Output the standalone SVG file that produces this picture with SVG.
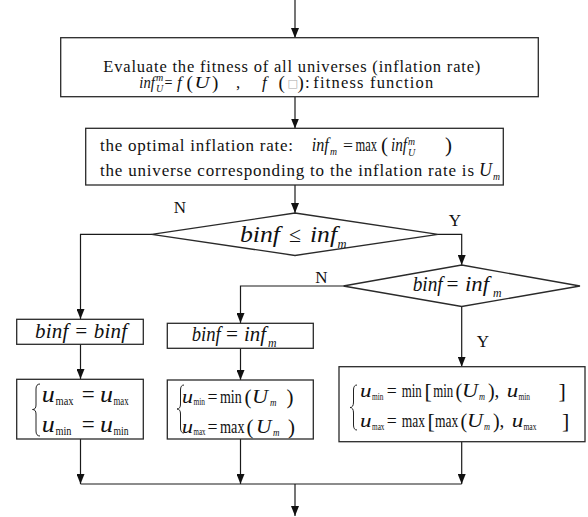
<svg xmlns="http://www.w3.org/2000/svg" width="588" height="517" viewBox="0 0 588 517" font-family="'Liberation Serif', 'Times New Roman', 'DejaVu Serif', serif">
<defs>
<marker id="ah" viewBox="0 0 10 8" refX="10" refY="4" markerWidth="10" markerHeight="8" markerUnits="userSpaceOnUse" orient="auto">
<path d="M0,0 L10,4 L0,8 z" fill="#111"/>
</marker>
</defs>
<style>
.box{fill:#fff;stroke:#2a2a2a;stroke-width:1.3}
.ln{fill:none;stroke:#1a1a1a;stroke-width:1.2}
.ar{fill:none;stroke:#1a1a1a;stroke-width:1.2;marker-end:url(#ah)}
.br{fill:none;stroke:#222;stroke-width:1}
text{font-family:'Liberation Serif','Times New Roman','DejaVu Serif',serif;fill:#111}
.it{font-style:italic}
.lb{font-size:17px}
.sq{font-family:'DejaVu Sans',sans-serif;fill:#aaa}
</style>
<rect width="588" height="517" fill="#fff"/>

<g id="connectors">
<line class="ar" x1="295" y1="0" x2="295" y2="38"/>
<line class="ar" x1="295" y1="97" x2="295" y2="128.5"/>
<line class="ar" x1="295" y1="185" x2="295" y2="213"/>
<polyline class="ar" points="152,234.3 80.5,234.3 80.5,319"/>
<polyline class="ar" points="438,234.3 461.7,234.3 461.7,265"/>
<polyline class="ar" points="343.3,286 240.5,286 240.5,323"/>
<line class="ar" x1="461.7" y1="306" x2="461.7" y2="366.7"/>
<line class="ar" x1="80.5" y1="344" x2="80.5" y2="379"/>
<line class="ar" x1="240.5" y1="348" x2="240.5" y2="380"/>
<line class="ar" x1="80.5" y1="439" x2="80.5" y2="484"/>
<line class="ar" x1="240.5" y1="439" x2="240.5" y2="484"/>
<line class="ar" x1="461.7" y1="441.7" x2="461.7" y2="484"/>
<line class="ln" x1="80.5" y1="484" x2="461.7" y2="484"/>
<line class="ar" x1="295" y1="484" x2="295" y2="516"/>
<text class="lb" x="180" y="213" text-anchor="middle">N</text>
<text class="lb" x="455" y="225.5" text-anchor="middle">Y</text>
<text class="lb" x="321.5" y="283" text-anchor="middle">N</text>
<text class="lb" x="483" y="346.5" text-anchor="middle">Y</text>
</g>

<g id="evaluate">
<rect class="box" x="60.7" y="37.7" width="477.6" height="59"/>
<text x="103.3" y="71.5" font-size="16.5" textLength="377" lengthAdjust="spacing">Evaluate the fitness of all universes (inflation rate)</text>
<text font-size="17"><tspan class="it" x="139.3" y="88" textLength="15.5" lengthAdjust="spacingAndGlyphs">inf</tspan><tspan class="it" x="156" y="81" font-size="10">m</tspan><tspan class="it" x="156" y="92" font-size="10">U</tspan><tspan x="164.5" y="88" textLength="8" lengthAdjust="spacingAndGlyphs">=</tspan><tspan class="it" x="177" y="88">f</tspan><tspan x="186.5" y="89" font-size="19">(</tspan><tspan class="it" x="194.5" y="88" textLength="15" lengthAdjust="spacingAndGlyphs">U</tspan><tspan x="212" y="89" font-size="19">)</tspan><tspan x="236" y="88">,</tspan><tspan class="it" x="262" y="88">f</tspan><tspan x="278.5" y="89" font-size="19">(</tspan><tspan class="sq" x="287.5" y="87" font-size="11">□</tspan><tspan x="297.5" y="89" font-size="19">)</tspan><tspan x="305" y="88">:</tspan><tspan x="313.3" y="88" font-size="16.5" textLength="120" lengthAdjust="spacing">fitness function</tspan></text>
</g>

<g id="optimal">
<rect class="box" x="85.7" y="128.3" width="417.6" height="56.7"/>
<text font-size="17"><tspan x="100" y="151" textLength="193" lengthAdjust="spacing">the optimal inflation rate:</tspan><tspan class="it" x="311.7" y="151" font-size="18" textLength="17" lengthAdjust="spacingAndGlyphs">inf</tspan><tspan class="it" x="330" y="155" font-size="11" textLength="7" lengthAdjust="spacingAndGlyphs">m</tspan><tspan x="343" y="151" textLength="10" lengthAdjust="spacingAndGlyphs">=</tspan><tspan x="355.5" y="151" font-size="18" textLength="21.5" lengthAdjust="spacingAndGlyphs">max</tspan><tspan x="381" y="152" font-size="21">(</tspan><tspan class="it" x="391" y="151" font-size="18" textLength="16" lengthAdjust="spacingAndGlyphs">inf</tspan><tspan class="it" x="408" y="144.5" font-size="10" textLength="7" lengthAdjust="spacingAndGlyphs">m</tspan><tspan class="it" x="408" y="155.5" font-size="10">U</tspan><tspan x="445" y="152" font-size="21">)</tspan></text>
<text font-size="17"><tspan x="100" y="176" textLength="374" lengthAdjust="spacing">the universe corresponding to the inflation rate is</tspan><tspan class="it" x="479" y="176" font-size="19" textLength="13" lengthAdjust="spacingAndGlyphs">U</tspan><tspan class="it" x="493" y="180" font-size="11" textLength="7" lengthAdjust="spacingAndGlyphs">m</tspan></text>
</g>

<g id="decision1">
<polygon class="box" points="295,213 438,234.3 295,255.5 151.7,234.3"/>
<text font-size="24"><tspan class="it" x="240" y="241.5" textLength="40" lengthAdjust="spacingAndGlyphs">binf</tspan><tspan x="289" y="241.5" font-size="22" textLength="12" lengthAdjust="spacingAndGlyphs">≤</tspan><tspan class="it" x="310" y="241.5" textLength="27" lengthAdjust="spacingAndGlyphs">inf</tspan><tspan class="it" x="337.5" y="247.5" font-size="13" textLength="9" lengthAdjust="spacingAndGlyphs">m</tspan></text>
</g>

<g id="decision2">
<polygon class="box" points="461.7,265 580,286 461.7,306.5 343.3,286"/>
<text font-size="20"><tspan class="it" x="412.7" y="291" textLength="30" lengthAdjust="spacingAndGlyphs">binf</tspan><tspan x="446.5" y="291" textLength="12" lengthAdjust="spacingAndGlyphs">=</tspan><tspan class="it" x="465" y="291" textLength="24" lengthAdjust="spacingAndGlyphs">inf</tspan><tspan class="it" x="493" y="296.5" font-size="12" textLength="8.5" lengthAdjust="spacingAndGlyphs">m</tspan></text>
</g>

<g id="keep-binf">
<rect class="box" x="16.7" y="319.3" width="126.6" height="25"/>
<text class="it" x="35" y="337.7" font-size="21" textLength="92" lengthAdjust="spacing">binf = binf</text>
</g>

<g id="set-binf">
<rect class="box" x="167.3" y="323.3" width="146" height="25"/>
<text font-size="20"><tspan class="it" x="191.7" y="341" textLength="29" lengthAdjust="spacingAndGlyphs">binf</tspan><tspan x="226" y="341" textLength="12" lengthAdjust="spacingAndGlyphs">=</tspan><tspan class="it" x="244" y="341" textLength="22" lengthAdjust="spacingAndGlyphs">inf</tspan><tspan class="it" x="268" y="346.5" font-size="12" textLength="8.5" lengthAdjust="spacingAndGlyphs">m</tspan></text>
</g>

<g id="keep-range">
<rect class="box" x="16.7" y="379.3" width="126.6" height="59.7"/>
<path class="br" d="M40,384 Q36,384 36,389 L36,405 Q36,409.5 32.5,409.5 Q36,409.5 36,414 L36,431 Q36,436 40,436"/>
<text font-size="23"><tspan class="it" x="41.7" y="402" textLength="13" lengthAdjust="spacingAndGlyphs">u</tspan><tspan x="55.5" y="404.5" font-size="13" textLength="18" lengthAdjust="spacingAndGlyphs">max</tspan><tspan x="81.7" y="402" textLength="13" lengthAdjust="spacingAndGlyphs">=</tspan><tspan class="it" x="100" y="402" textLength="13" lengthAdjust="spacingAndGlyphs">u</tspan><tspan x="113.5" y="404.5" font-size="13" textLength="15" lengthAdjust="spacingAndGlyphs">max</tspan></text>
<text font-size="23"><tspan class="it" x="41.7" y="432" textLength="13" lengthAdjust="spacingAndGlyphs">u</tspan><tspan x="55.5" y="434.5" font-size="13" textLength="16" lengthAdjust="spacingAndGlyphs">min</tspan><tspan x="81.7" y="432" textLength="13" lengthAdjust="spacingAndGlyphs">=</tspan><tspan class="it" x="100" y="432" textLength="13" lengthAdjust="spacingAndGlyphs">u</tspan><tspan x="113.5" y="434.5" font-size="13" textLength="15" lengthAdjust="spacingAndGlyphs">min</tspan></text>
</g>

<g id="new-range">
<rect class="box" x="167.3" y="380" width="146" height="59"/>
<path class="br" d="M184,385 Q180.5,385 180.5,390 L180.5,404 Q180.5,409 177,409 Q180.5,409 180.5,414 L180.5,428 Q180.5,433 184,433"/>
<text font-size="19"><tspan class="it" x="182" y="402.5" textLength="11" lengthAdjust="spacingAndGlyphs">u</tspan><tspan x="193.5" y="405" font-size="11" textLength="11.5" lengthAdjust="spacingAndGlyphs">min</tspan><tspan x="207.5" y="402.5" textLength="10" lengthAdjust="spacingAndGlyphs">=</tspan><tspan x="220" y="402.5" textLength="21.7" lengthAdjust="spacingAndGlyphs">min</tspan><tspan x="244.5" y="403.5" font-size="21">(</tspan><tspan class="it" x="252" y="402.5" textLength="16" lengthAdjust="spacingAndGlyphs">U</tspan><tspan class="it" x="270" y="406" font-size="10" textLength="6.5" lengthAdjust="spacingAndGlyphs">m</tspan><tspan x="286.5" y="403.5" font-size="21">)</tspan></text>
<text font-size="19"><tspan class="it" x="182" y="432.5" textLength="11" lengthAdjust="spacingAndGlyphs">u</tspan><tspan x="193.5" y="435" font-size="11" textLength="12" lengthAdjust="spacingAndGlyphs">max</tspan><tspan x="207.5" y="432.5" textLength="10" lengthAdjust="spacingAndGlyphs">=</tspan><tspan x="220" y="432.5" textLength="24.5" lengthAdjust="spacingAndGlyphs">max</tspan><tspan x="246.5" y="433.5" font-size="21">(</tspan><tspan class="it" x="256" y="432.5" textLength="15.5" lengthAdjust="spacingAndGlyphs">U</tspan><tspan class="it" x="273" y="436" font-size="10" textLength="6.5" lengthAdjust="spacingAndGlyphs">m</tspan><tspan x="288" y="433.5" font-size="21">)</tspan></text>
</g>

<g id="merge-range">
<rect class="box" x="339" y="366.7" width="246" height="75"/>
<path class="br" d="M357,385 Q353.5,385 353.5,390 L353.5,402 Q353.5,407.5 350,407.5 Q353.5,407.5 353.5,413 L353.5,425 Q353.5,430 357,430"/>
<text font-size="19"><tspan class="it" x="360" y="396.7" textLength="11.5" lengthAdjust="spacingAndGlyphs">u</tspan><tspan x="372" y="399.5" font-size="11" textLength="11.5" lengthAdjust="spacingAndGlyphs">min</tspan><tspan x="386.7" y="396.7" textLength="10" lengthAdjust="spacingAndGlyphs">=</tspan><tspan x="401.7" y="396.7" textLength="20" lengthAdjust="spacingAndGlyphs">min</tspan><tspan x="424.5" y="398" font-size="22">[</tspan><tspan x="433.3" y="396.7" textLength="20" lengthAdjust="spacingAndGlyphs">min</tspan><tspan x="455.5" y="397.7" font-size="20">(</tspan><tspan class="it" x="462" y="396.7" textLength="16" lengthAdjust="spacingAndGlyphs">U</tspan><tspan class="it" x="479" y="400" font-size="10" textLength="6" lengthAdjust="spacingAndGlyphs">m</tspan><tspan x="488" y="397.7" font-size="20">)</tspan><tspan x="494.5" y="396.7">,</tspan><tspan class="it" x="506.7" y="396.7" textLength="11.5" lengthAdjust="spacingAndGlyphs">u</tspan><tspan x="518.5" y="399.5" font-size="11" textLength="11.5" lengthAdjust="spacingAndGlyphs">min</tspan><tspan x="558.5" y="398" font-size="22">]</tspan></text>
<text font-size="19"><tspan class="it" x="360" y="426.7" textLength="11.5" lengthAdjust="spacingAndGlyphs">u</tspan><tspan x="372" y="429.5" font-size="11" textLength="12.5" lengthAdjust="spacingAndGlyphs">max</tspan><tspan x="386.7" y="426.7" textLength="10" lengthAdjust="spacingAndGlyphs">=</tspan><tspan x="401.7" y="426.7" textLength="23.3" lengthAdjust="spacingAndGlyphs">max</tspan><tspan x="427.5" y="428" font-size="22">[</tspan><tspan x="435" y="426.7" textLength="23.3" lengthAdjust="spacingAndGlyphs">max</tspan><tspan x="460.5" y="427.7" font-size="20">(</tspan><tspan class="it" x="467" y="426.7" textLength="16" lengthAdjust="spacingAndGlyphs">U</tspan><tspan class="it" x="484" y="430" font-size="10" textLength="6" lengthAdjust="spacingAndGlyphs">m</tspan><tspan x="493" y="427.7" font-size="20">)</tspan><tspan x="499.5" y="426.7">,</tspan><tspan class="it" x="511.7" y="426.7" textLength="11.5" lengthAdjust="spacingAndGlyphs">u</tspan><tspan x="523.5" y="429.5" font-size="11" textLength="13" lengthAdjust="spacingAndGlyphs">max</tspan><tspan x="562" y="428" font-size="22">]</tspan></text>
</g>
</svg>
